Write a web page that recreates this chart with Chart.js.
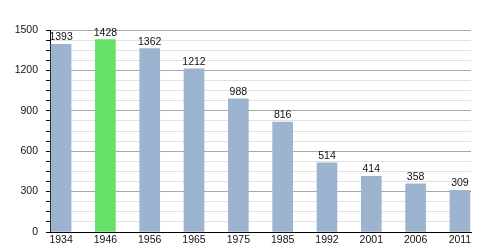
<!DOCTYPE html>
<html>
<head>
<meta charset="utf-8">
<script src="https://cdn.jsdelivr.net/npm/chart.js@4.4.1/dist/chart.umd.min.js"></script>
<style>
body { margin: 0; background: #fff; }
#wrap { width: 500px; height: 250px; }
</style>
</head>
<body>
<div id="wrap"><canvas id="chart"></canvas></div>
<script>
var years = ['1934', '1946', '1956', '1965', '1975', '1985', '1992', '2001', '2006', '2011'];
var population = [1393, 1428, 1362, 1212, 988, 816, 514, 414, 358, 309];
var highlightYear = '1946';

var points = [];
var colors = [];
for (var i = 0; i < years.length; i++) {
	points.push({ x: i, y: population[i] });
	colors.push(years[i] === highlightYear ? '#66e266' : '#9cb4cf');
}

// value above each bar
var valueLabels = {
	id: 'valueLabels',
	afterDatasetsDraw: function (chart) {
		var ctx = chart.ctx;
		var meta = chart.getDatasetMeta(0);
		ctx.save();
		ctx.font = '10.5px "Liberation Sans", Arial, sans-serif';
		ctx.fillStyle = '#111';
		ctx.textAlign = 'center';
		ctx.textBaseline = 'alphabetic';
		meta.data.forEach(function (bar, idx) {
			ctx.fillText(population[idx], bar.x, bar.y - 4);
		});
		ctx.restore();
	}
};

Chart.defaults.font.family = '"Liberation Sans", Arial, sans-serif';
Chart.defaults.font.size = 10.5;
Chart.defaults.color = '#111';

var ctxB = document.getElementById('chart').getContext('2d');
var myBarChart = new Chart(ctxB, {
	type: 'bar',
	data: {
		datasets: [
			{
				data: points,
				backgroundColor: colors,
				borderWidth: 0,
				barThickness: 20
			}
		]
	},
	options: {
		responsive: true,
		maintainAspectRatio: false,
		animation: false,
		layout: {
			padding: { top: 30, right: 29, left: 0, bottom: 0 }
		},
		plugins: {
			legend: { display: false },
			tooltip: { enabled: false }
		},
		scales: {
			x: {
				type: 'linear',
				offset: false,
				min: -0.25,
				max: 9.25,
				grid: { display: false, drawTicks: false },
				border: { display: true, color: '#000', width: 1 },
				ticks: {
					stepSize: 1,
					includeBounds: false,
					autoSkip: false,
					maxRotation: 0,
					padding: 2,
					callback: function (v) {
						return Number.isInteger(v) && years[v] ? years[v] : '';
					}
				},
				afterFit: function (scale) { scale.height = 18; }
			},
			y: {
				min: 0,
				max: 1500,
				grid: {
					color: function (c) {
						return c.tick && c.tick.value % 300 === 0 ? '#a8a8a8' : '#e2e2e2';
					},
					tickColor: '#000',
					tickLength: 4
				},
				border: { display: true, color: '#000', width: 1 },
				ticks: {
					stepSize: 75,
					autoSkip: false,
					padding: 8,
					callback: function (v) {
						return v % 300 === 0 ? v : '';
					}
				},
				afterFit: function (scale) { scale.width = 50; }
			}
		}
	},
	plugins: [valueLabels]
});
</script>
</body>
</html>
